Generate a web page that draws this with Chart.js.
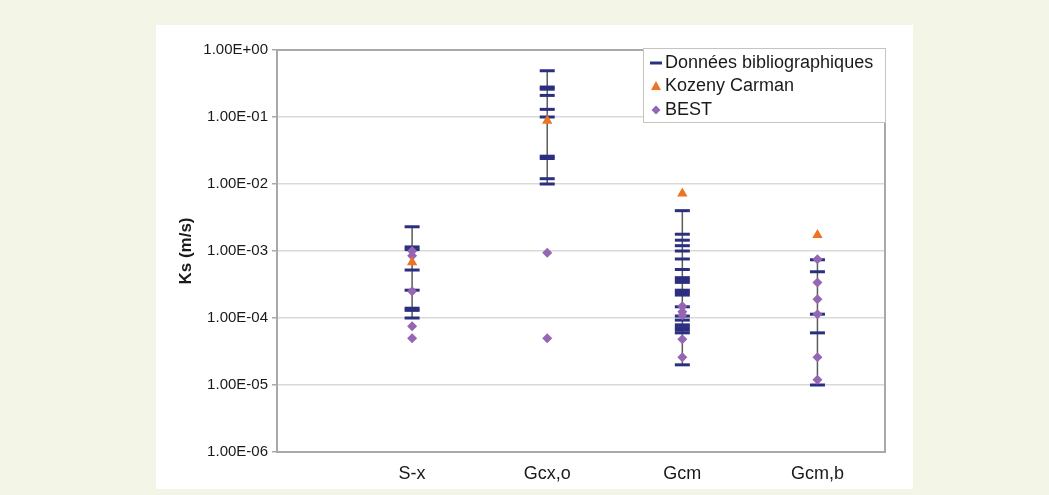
<!DOCTYPE html>
<html>
<head>
<meta charset="utf-8">
<script src="https://cdn.jsdelivr.net/npm/chart.js@4"></script>
<style>
  html, body { margin: 0; padding: 0; background: #f3f6e7; }
  body { width: 1049px; height: 495px; position: relative; overflow: hidden; }
  #panel { position: absolute; left: 156px; top: 25px; width: 757px; height: 464px; background: #ffffff; }
</style>
</head>
<body>
<div id="panel"><canvas id="chart" width="757" height="464"></canvas></div>
<script>
// categories on the x axis (placed at x = 1..4)
const categories = ['S-x', 'Gcx,o', 'Gcm', 'Gcm,b'];
// y axis decade ticks
const yTicks = [1e-6, 1e-5, 1e-4, 1e-3, 1e-2, 1e-1, 1];

// Données bibliographiques, per category
const donneesSx = [2.3e-3, 1.15e-3, 1.05e-3, 5.2e-4, 2.6e-4, 1.4e-4, 1.3e-4, 1.0e-4];
const donneesGcxo = [0.49, 0.28, 0.26, 0.21, 0.13, 0.10, 0.026, 0.024, 0.012, 0.010];
const donneesGcm = [4.0e-3, 1.78e-3, 1.45e-3, 1.2e-3, 1.0e-3, 7.6e-4, 5.3e-4, 4.0e-4, 3.7e-4, 3.4e-4,
                    2.6e-4, 2.4e-4, 2.2e-4, 1.47e-4, 1.07e-4, 9.3e-5, 7.9e-5, 7.2e-5, 6.6e-5, 6.0e-5, 2.0e-5];
const donneesGcmb = [7.4e-4, 4.9e-4, 1.14e-4, 6.0e-5, 1.0e-5];

// Kozeny Carman, one value per category
const kozeny = [6.8e-4, 0.088, 7.2e-3, 1.74e-3];

// BEST, per category
const bestSx = [1.0e-3, 8.5e-4, 2.5e-4, 7.5e-5, 5.0e-5];
const bestGcxo = [9.4e-4, 5.0e-5];
const bestGcm = [1.5e-4, 1.24e-4, 1.1e-4, 4.8e-5, 2.6e-5];
const bestGcmb = [7.5e-4, 3.4e-4, 1.9e-4, 1.14e-4, 2.6e-5, 1.2e-5];

const donnees = [donneesSx, donneesGcxo, donneesGcm, donneesGcmb];
const best = [bestSx, bestGcxo, bestGcm, bestGcmb];

const NAVY = '#2b2f7f';
const ORANGE = '#ec7424';
const PURPLE = '#9466b4';
const FONT = '"Liberation Sans", Arial, sans-serif';

function toPoints(lists) {
    let pts = [];
    lists.forEach((vals, i) => vals.forEach(v => pts.push({x: i + 1, y: v})));
    return pts;
}

//one min-max line per category, from the Données values
const rangeSets = donnees.map((vals, i) => ({
    type: 'line',
    label: 'range' + i,
    data: [{x: i + 1, y: Math.min(...vals)}, {x: i + 1, y: Math.max(...vals)}],
    borderColor: '#5a5a5a',
    borderWidth: 1.5,
    pointRadius: 0,
    order: 5
}));

function sciLabel(v) {
    let e = Math.round(Math.log10(v));
    let sign = e < 0 ? '-' : '+';
    let n = String(Math.abs(e)).padStart(2, '0');
    return '1.00E' + sign + n;
}

//legend drawn inside the plot, top right
const boxLegend = {
    id: 'boxLegend',
    afterDraw(chart) {
        const ctx = chart.ctx;
        const x = 487, y = 23, w = 242, h = 74;
        ctx.save();
        ctx.fillStyle = '#ffffff';
        ctx.fillRect(x, y, w, h);
        ctx.strokeStyle = '#c4c4c4';
        ctx.lineWidth = 1;
        ctx.strokeRect(x + 0.5, y + 0.5, w, h);
        const rows = [38, 61, 85];
        const mx = 500;
        // dash
        ctx.strokeStyle = NAVY;
        ctx.lineWidth = 3;
        ctx.beginPath();
        ctx.moveTo(mx - 6, rows[0]);
        ctx.lineTo(mx + 6, rows[0]);
        ctx.stroke();
        // triangle
        ctx.fillStyle = ORANGE;
        ctx.beginPath();
        ctx.moveTo(mx, rows[1] - 5);
        ctx.lineTo(mx + 5, rows[1] + 4);
        ctx.lineTo(mx - 5, rows[1] + 4);
        ctx.closePath();
        ctx.fill();
        // diamond
        ctx.fillStyle = PURPLE;
        ctx.beginPath();
        ctx.moveTo(mx, rows[2] - 4.5);
        ctx.lineTo(mx + 4.5, rows[2]);
        ctx.lineTo(mx, rows[2] + 4.5);
        ctx.lineTo(mx - 4.5, rows[2]);
        ctx.closePath();
        ctx.fill();
        ctx.fillStyle = '#1a1a1a';
        ctx.font = '18px ' + FONT;
        ctx.textBaseline = 'middle';
        ctx.textAlign = 'left';
        ctx.fillText('Données bibliographiques', 509, rows[0]);
        ctx.fillText('Kozeny Carman', 509, rows[1]);
        ctx.fillText('BEST', 509, rows[2]);
        ctx.restore();
    }
};

//grey frame all around the plot area
const plotFrame = {
    id: 'plotFrame',
    beforeDatasetsDraw(chart) {
        const a = chart.chartArea;
        const ctx = chart.ctx;
        ctx.save();
        ctx.strokeStyle = '#a9a9a9';
        ctx.lineWidth = 2;
        ctx.strokeRect(a.left, a.top, a.right - a.left, a.bottom - a.top);
        ctx.restore();
    }
};

new Chart(document.getElementById('chart'), {
    type: 'scatter',
    data: {
        datasets: [
            ...rangeSets,
            {
                label: 'Données bibliographiques',
                data: toPoints(donnees),
                pointStyle: 'line',
                pointRadius: 7.5,
                pointBorderWidth: 3,
                borderColor: NAVY,
                backgroundColor: NAVY,
                order: 3
            },
            {
                label: 'BEST',
                data: toPoints(best),
                pointStyle: 'rectRot',
                pointRadius: 5,
                borderWidth: 0,
                backgroundColor: PURPLE,
                borderColor: PURPLE,
                order: 2
            },
            {
                label: 'Kozeny Carman',
                data: kozeny.map((v, i) => ({x: i + 1, y: v})),
                pointStyle: 'triangle',
                pointRadius: 6,
                borderWidth: 0,
                backgroundColor: ORANGE,
                borderColor: ORANGE,
                order: 1
            }
        ]
    },
    options: {
        responsive: false,
        devicePixelRatio: 1,
        animation: false,
        layout: {padding: {left: 16, top: 25, right: 28, bottom: 0}},
        plugins: {
            legend: {display: false},
            tooltip: {enabled: false}
        },
        scales: {
            x: {
                type: 'linear',
                min: 0,
                max: 4.5,
                afterBuildTicks: (scale) => {
                    scale.ticks = categories.map((c, i) => ({value: i + 1}));
                },
                afterFit: (scale) => { scale.height = 37; },
                ticks: {
                    callback: (v) => categories[v - 1],
                    color: '#1a1a1a',
                    font: {family: FONT, size: 18},
                    padding: 3,
                    maxRotation: 0,
                    autoSkip: false
                },
                grid: {display: false},
                border: {color: '#a9a9a9', width: 2}
            },
            y: {
                type: 'logarithmic',
                min: 1e-6,
                max: 1,
                afterBuildTicks: (scale) => {
                    scale.ticks = yTicks.map(v => ({value: v}));
                },
                afterFit: (scale) => { scale.width = 105; },
                ticks: {
                    callback: (v) => sciLabel(v),
                    color: '#1a1a1a',
                    font: {family: FONT, size: 15},
                    padding: 4
                },
                grid: {color: '#d9d9d9', lineWidth: 1.5, tickLength: 5, tickColor: '#a9a9a9'},
                border: {color: '#a9a9a9', width: 2},
                title: {
                    display: true,
                    text: 'Ks (m/s)',
                    color: '#1a1a1a',
                    font: {family: FONT, size: 17, weight: 'bold'},
                    padding: {top: 4, bottom: 4}
                }
            }
        }
    },
    plugins: [plotFrame, boxLegend]
});
</script>
</body>
</html>
